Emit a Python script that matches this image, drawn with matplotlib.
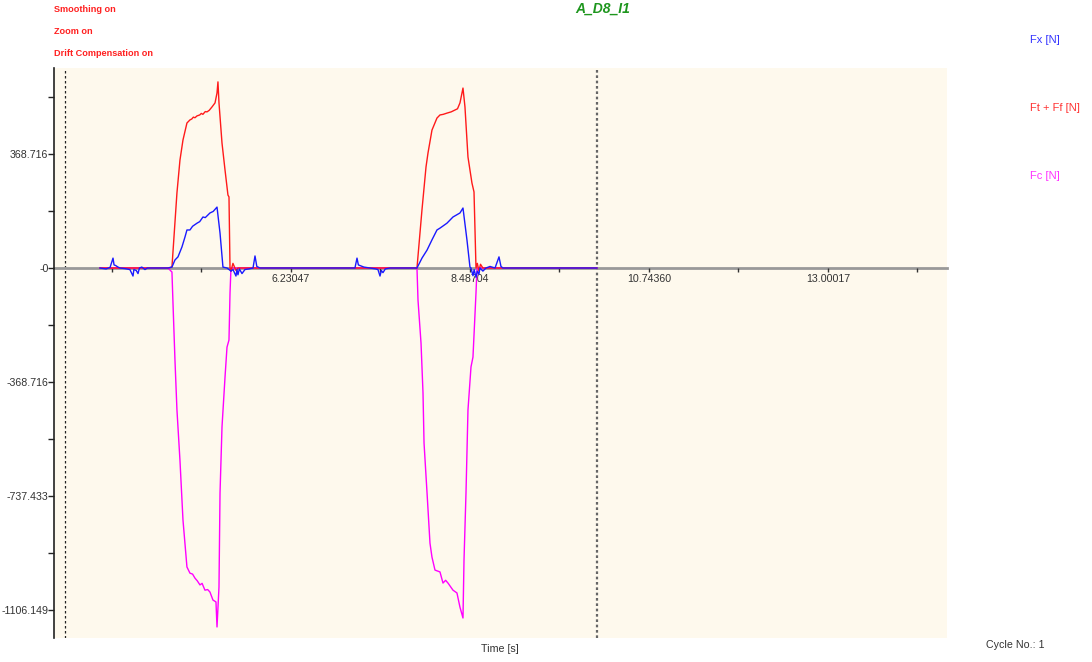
import matplotlib
matplotlib.use('Agg')
import matplotlib.pyplot as plt

plt.rcParams['font.family'] = ['Liberation Sans', 'DejaVu Sans']

# ---- data (time in s, force in N) ----
t_fx = [3.823, 3.90, 3.95, 3.987, 4.00, 4.02, 4.05, 4.075, 4.138, 4.20, 4.239, 4.25, 4.28, 4.302,
        4.32, 4.35, 4.39, 4.42, 4.50, 4.68, 4.730, 4.768, 4.806, 4.856, 4.894, 4.919, 4.957, 4.99,
        5.046, 5.08, 5.121, 5.15, 5.209, 5.25, 5.298, 5.336, 5.373, 5.424, 5.45, 5.474, 5.50, 5.537,
        5.55, 5.562, 5.58, 5.613, 5.65, 5.70, 5.752, 5.777, 5.80, 5.84, 6.0, 6.344, 6.848, 7.037,
        7.063, 7.08, 7.10, 7.15, 7.227, 7.30, 7.327, 7.353, 7.37, 7.390, 7.42, 7.479, 7.605, 7.819,
        7.882, 7.946, 8.008, 8.071, 8.109, 8.197, 8.273, 8.361, 8.399, 8.449, 8.487, 8.50, 8.525,
        8.54, 8.563, 8.58, 8.60, 8.613, 8.65, 8.689, 8.74, 8.803, 8.853, 8.878, 8.903, 10.088]
fx = [0, -3, 2, 32, 10, 8, 3, 0, -2, -5, -26, -5, -8, -18,
      0, 3, -5, 0, 0, 0, 3, 26, 36, 68, 100, 123, 123, 135,
      145, 150, 165, 163, 178, 183, 197, 113, 3, 0, -5, -10, -5, -26,
      -5, -22, -3, -18, -5, -3, 0, 39, 5, 0, 0, 0, 0, 0,
      32, 10, 8, 3, 0, -3, -5, -26, -8, -15, -3, 0, 0, 0,
      32, 58, 91, 123, 129, 145, 165, 178, 194, 91, 3, 0, -25,
      -5, -30, -10, -20, 0, -10, 0, 5, 0, 36, 5, 0, 0]

t_ft = [3.823, 4.680, 4.730, 4.793, 4.831, 4.869, 4.919, 4.957, 4.98, 5.00, 5.02, 5.046, 5.08,
        5.10, 5.12, 5.15, 5.172, 5.20, 5.235, 5.273, 5.298, 5.310, 5.323, 5.361, 5.399, 5.436,
        5.449, 5.462, 5.474, 5.499, 5.537, 5.562, 5.70, 7.819, 7.882, 7.933, 7.958, 8.008, 8.071,
        8.109, 8.15, 8.197, 8.25, 8.298, 8.33, 8.361, 8.399, 8.424, 8.462, 8.512, 8.538, 8.563,
        8.58, 8.60, 8.62, 8.65, 10.088]
ft = [0, 0, 3, 243, 349, 414, 469, 479, 482, 488, 486, 492, 495,
      500, 497, 506, 505, 510, 521, 534, 566, 602, 534, 404, 317, 236,
      230, 0, -10, 15, -8, 0, 0, 0, 188, 327, 372, 446, 485,
      495, 497, 501, 505, 511, 515, 534, 582, 521, 359, 275, 246, 0,
      15, -10, 12, 0, 0]

t_fc = [3.823, 4.680, 4.730, 4.743, 4.768, 4.793, 4.831, 4.869, 4.919, 4.957, 4.99, 5.020, 5.05,
        5.083, 5.11, 5.146, 5.18, 5.209, 5.247, 5.285, 5.298, 5.323, 5.336, 5.361, 5.399, 5.424,
        5.449, 5.462, 5.474, 7.819, 7.832, 7.870, 7.895, 7.908, 7.946, 7.983, 8.008, 8.046,
        8.109, 8.147, 8.18, 8.210, 8.273, 8.323, 8.361, 8.399, 8.412, 8.437, 8.462, 8.500,
        8.525, 8.563, 8.576, 10.088]
fc = [0, 0, -13, -113, -298, -459, -622, -815, -967, -987, -990, -1003, -1012,
      -1025, -1020, -1042, -1040, -1048, -1074, -1080, -1161, -1032, -728, -514, -353, -256,
      -233, -81, 0, 0, -104, -243, -404, -566, -728, -890, -935, -977,
      -983, -1019, -1010, -1019, -1042, -1051, -1097, -1132, -944, -728, -459, -320,
      -288, -81, 0, 0]

y_ticks = [-1106.149, -737.433, -368.716, 0.0, 368.716]
y_labels = ['-1106.149', '-737.433', '-368.716', '-0', '368.716']
y_minor = [-921.791, -553.075, -184.358, 184.358, 553.075]
x_ticks = [6.23047, 8.48704, 10.74360, 13.00017]
x_labels = ['6.23047', '8.48704', '10.74360', '13.00017']
x_minor = [3.97390, 5.10218, 7.35875, 9.61532, 11.87188, 14.12845]
cursor_lines = [3.381, 10.088]

fig = plt.figure(figsize=(10.92, 6.62), dpi=100)
ax = fig.add_axes([54/1092, 1 - 638/662, (947 - 54)/1092, (638 - 68)/662])
ax.set_facecolor('#fef9ed')
ax.set_xlim(3.243, 14.501)
ax.set_ylim(-1196.7, 646.9)

for s in ['top', 'right']:
    ax.spines[s].set_visible(False)
ax.spines['left'].set_color('#222222')
ax.spines['left'].set_linewidth(1.2)
ax.spines['bottom'].set_position(('data', 0))
ax.spines['bottom'].set_color('#999999')
ax.spines['bottom'].set_linewidth(2)
ax.spines['bottom'].set_zorder(1)

ax.axvline(cursor_lines[0], color='#222222', lw=0.9, ls=(0, (2, 2)), zorder=1)
ax.axvline(cursor_lines[1], color='#666666', lw=1.6, ls=(0, (1.2, 1.2)), zorder=1)

ax.plot(t_fc, fc, color='#ff00ff', lw=1.0, zorder=3)
ax.plot(t_ft, ft, color='#ff1a1a', lw=1.0, zorder=4)
ax.plot(t_fx, fx, color='#1a1aff', lw=1.0, zorder=5)

ax.set_yticks(y_ticks)
ax.set_yticklabels(y_labels)
ax.set_yticks(y_minor, minor=True)
ax.set_xticks(x_ticks)
ax.set_xticklabels(x_labels)
ax.set_xticks(x_minor, minor=True)
ax.tick_params(axis='y', which='both', direction='out', length=4, width=1, color='#222222',
               labelsize=7.7, labelcolor='#333333', pad=0)
ax.tick_params(axis='x', which='both', direction='out', length=3, width=1, color='#333333',
               labelsize=7.7, labelcolor='#333333', pad=1)

red = '#ff2020'
fig.text(54/1092, 1 - 10/662, 'Smoothing on', color=red, fontsize=6.6, weight='bold', va='center')
fig.text(54/1092, 1 - 31/662, 'Zoom on', color=red, fontsize=6.6, weight='bold', va='center')
fig.text(54/1092, 1 - 53/662, 'Drift Compensation on', color=red, fontsize=6.6, weight='bold', va='center')
fig.text(603/1092, 1 - 9/662, 'A_D8_I1', color='#1e961e', fontsize=10, weight='bold', style='italic',
         ha='center', va='center')

fig.text(1030/1092, 1 - 40/662, 'Fx [N]', color='#3333ff', fontsize=8, va='center')
fig.text(1030/1092, 1 - 108/662, 'Ft + Ff [N]', color='#ff3333', fontsize=8, va='center')
fig.text(1030/1092, 1 - 176/662, 'Fc [N]', color='#ff33ff', fontsize=8, va='center')

fig.text(500/1092, 1 - 649/662, 'Time [s]', color='#333333', fontsize=7.7, ha='center', va='center')
fig.text(1015/1092, 1 - 645/662, 'Cycle No.: 1', color='#333333', fontsize=7.7, ha='center', va='center')

fig.savefig('out.png', dpi=100, facecolor='white')
